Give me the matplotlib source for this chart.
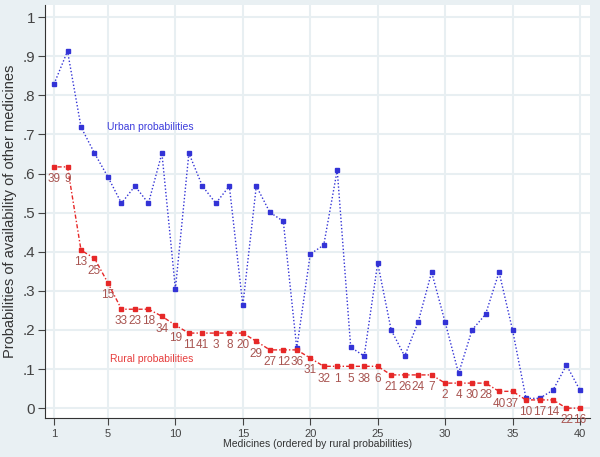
import numpy as np
import matplotlib
matplotlib.use("Agg")
import matplotlib.pyplot as plt

plt.rcParams["font.family"] = ["Liberation Sans", "DejaVu Sans"]

# medicines ordered by rural probabilities
rank = np.arange(1, 41)
urban = [0.829, 0.913, 0.719, 0.652, 0.591, 0.524, 0.568, 0.524, 0.652, 0.305,
         0.652, 0.568, 0.524, 0.568, 0.263, 0.568, 0.501, 0.478, 0.153, 0.394,
         0.417, 0.609, 0.156, 0.133, 0.371, 0.200, 0.133, 0.220, 0.348, 0.220,
         0.089, 0.200, 0.240, 0.348, 0.200, 0.025, 0.025, 0.046, 0.110, 0.046]
rural = [0.617, 0.617, 0.404, 0.383, 0.320, 0.253, 0.253, 0.253, 0.235, 0.212,
         0.192, 0.192, 0.192, 0.192, 0.192, 0.171, 0.149, 0.149, 0.149, 0.128,
         0.107, 0.107, 0.107, 0.107, 0.107, 0.085, 0.085, 0.085, 0.085, 0.064,
         0.064, 0.064, 0.064, 0.043, 0.043, 0.021, 0.021, 0.021, 0.0, 0.0]
med_ids = ["39", "9", "13", "25", "15", "33", "23", "18", "34", "19",
           "11", "41", "3", "8", "20", "29", "27", "12", "36", "31",
           "32", "1", "5", "38", "6", "21", "26", "24", "7", "2",
           "4", "30", "28", "40", "37", "10", "17", "14", "22", "16"]

bg = "#e9f0f3"
grid = "#e8eff2"

fig = plt.figure(figsize=(6, 4.57), dpi=100, facecolor=bg)
ax = fig.add_axes([0.075, 0.085, 0.908, 0.904])
ax.set_facecolor("white")

ax.plot(rank, urban, color="#3333d6", linestyle=(0, (1, 1.5)), linewidth=1.0,
        marker="s", markersize=3, zorder=3)
ax.plot(rank, rural, color="#e62828", linestyle=(0, (1, 1.5, 3, 1.5)), linewidth=1.0,
        marker="s", markersize=2.3, zorder=3)

for x, y, s in zip(rank, rural, med_ids):
    ax.annotate(s, (x, y), xytext=(0, -4.5), textcoords="offset points",
                ha="center", va="top", fontsize=8.5, color="#a85450", zorder=4)

ax.text(4.9, 0.72, "Urban probabilities", color="#3c3cdc", fontsize=7.5, va="center")
ax.text(5.15, 0.125, "Rural probabilities", color="#e63c3c", fontsize=7.5, va="center")

ax.set_xlim(0.33, 40.73)
ax.set_ylim(-0.0256, 1.031)
ax.set_xticks([1, 5, 10, 15, 20, 25, 30, 35, 40])
ax.set_yticks(np.arange(0, 1.01, 0.1))
ax.set_yticklabels(["0", ".1", ".2", ".3", ".4", ".5", ".6", ".7", ".8", ".9", "1"])
ax.grid(True, color=grid, linewidth=1.5)
ax.set_axisbelow(True)
for side in ["top", "right"]:
    ax.spines[side].set_visible(False)
ax.spines["left"].set_color("#333333")
ax.spines["bottom"].set_color("#333333")
ax.tick_params(axis="y", labelsize=11, colors="#444444", length=5, pad=2)
ax.tick_params(axis="x", labelsize=8, colors="#444444", length=5, pad=3)

ax.set_xlabel("Medicines (ordered by rural probabilities)", fontsize=7.5, color="#333333", labelpad=0)
ax.set_ylabel("Probabilities of availability of other medicines", fontsize=10.5,
              color="#333333", labelpad=4)

fig.savefig("out.png", dpi=100, facecolor=bg)
